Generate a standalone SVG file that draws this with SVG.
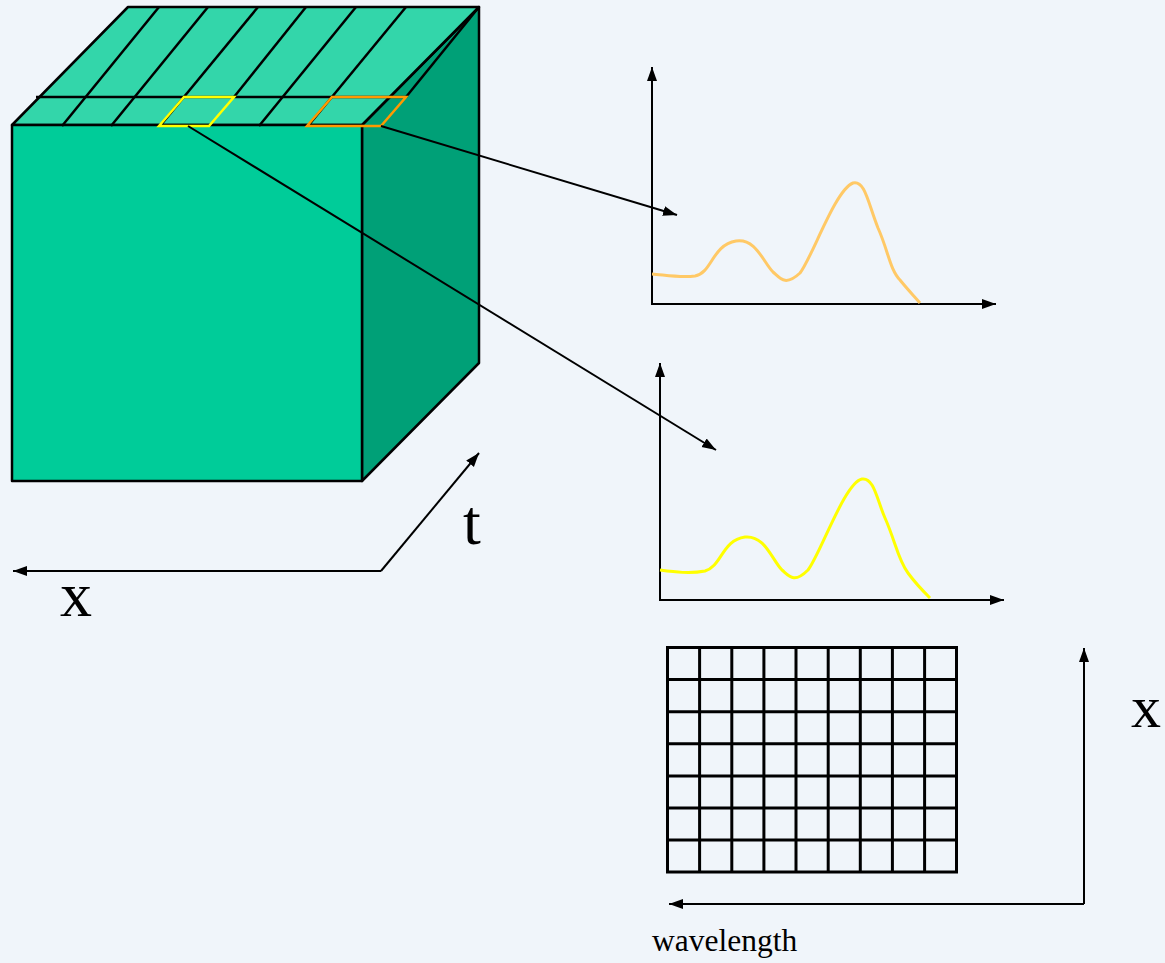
<svg xmlns="http://www.w3.org/2000/svg" width="1165" height="963" viewBox="0 0 1165 963">
<style>
.edge{stroke:#000;stroke-width:2.5;stroke-linejoin:round;}
.ln{fill:none;stroke:#000;stroke-width:2.5;}
.ax{fill:none;stroke:#000;stroke-width:2;}
.grid line{stroke:#000;stroke-width:3;}
.lbl{font-family:"Liberation Serif","Times New Roman",serif;fill:#000;}
</style>
<defs>
<marker id="ah" markerUnits="userSpaceOnUse" markerWidth="16" markerHeight="12" refX="14" refY="5" orient="auto" viewBox="0 0 16 10">
<path d="M0,0 L14,5 L0,10 Z" fill="#000"/>
</marker>
</defs>
<rect width="1165" height="963" fill="#F0F5FA"/>
<g id="cube">
<polygon class="edge" points="362,125 479,7 479,363 362,481" fill="#00A077"/>
<polygon class="edge" points="12,125 128,7 479,7 362,125" fill="#33D6AA"/>
<rect class="edge" x="12" y="125" width="350" height="356" fill="#00CC99"/>
<line class="ln" x1="36" y1="97" x2="406" y2="97"/>
<line class="ln" x1="159" y1="7" x2="62" y2="126"/>
<line class="ln" x1="208" y1="7" x2="111" y2="126"/>
<line class="ln" x1="258" y1="7" x2="160" y2="126"/>
<line class="ln" x1="306" y1="7" x2="234" y2="97"/>
<line class="ln" x1="356" y1="7" x2="259" y2="126"/>
<line class="ln" x1="406" y1="7" x2="308" y2="126"/>
<line class="ln" x1="479" y1="7" x2="406" y2="97"/>
<polygon points="159,126 184,97 234,97 209,126" fill="none" stroke="#FFFF00" stroke-width="2.5"/>
<polygon points="307,126 332,97 406,97 381,126" fill="none" stroke="#FF9900" stroke-width="2.5"/>
</g>
<g id="connectors">
<line class="ax" x1="381" y1="126" x2="677" y2="215" marker-end="url(#ah)"/>
<line class="ax" x1="188" y1="126" x2="716" y2="450" marker-end="url(#ah)"/>
<polyline class="ax" points="381,571 13,571" marker-end="url(#ah)"/>
<polyline class="ax" points="381,571 479,453" marker-end="url(#ah)"/>
<polyline class="ax" points="1084,904 1084,648" marker-end="url(#ah)"/>
<polyline class="ax" points="1084,904 669,904" marker-end="url(#ah)"/>
</g>
<g id="spectrum1">
<line class="ax" x1="652" y1="304" x2="652" y2="67" stroke-width="2.5" marker-end="url(#ah)"/>
<line class="ax" x1="651" y1="304" x2="996" y2="304" stroke-width="2.5" marker-end="url(#ah)"/>
<path d="M652,274 C665,275 680,278 695,276 C712,273 712,245 736,241 C756,238 763,262 773,272 C780,278 785,287 800,273 C812,258 835,190 853,183 C865,180 868,203 878,228 C888,250 890,270 900,280 C908,290 915,297 920,303" fill="none" stroke="#FFC966" stroke-width="3"/>
</g>
<g id="spectrum2">
<line class="ax" x1="660" y1="600" x2="660" y2="363" stroke-width="2.5" marker-end="url(#ah)"/>
<line class="ax" x1="659" y1="600" x2="1004" y2="600" stroke-width="2.5" marker-end="url(#ah)"/>
<path d="M660,570 C675,572 690,574 705,571 C722,566 722,540 745,537 C765,535 772,560 782,570 C789,576 794,584 808,570 C820,555 845,482 862,479 C874,477 877,500 885,518 C895,540 898,560 908,573 C916,584 923,591 930,598" fill="none" stroke="#FFFF00" stroke-width="3"/>
</g>
<g id="grid" class="grid">
<rect x="667.5" y="647.5" width="289" height="224.5" fill="none" stroke="#000" stroke-width="3"/>
<line x1="699.6" y1="647" x2="699.6" y2="872"/>
<line x1="731.8" y1="647" x2="731.8" y2="872"/>
<line x1="763.9" y1="647" x2="763.9" y2="872"/>
<line x1="796.0" y1="647" x2="796.0" y2="872"/>
<line x1="828.2" y1="647" x2="828.2" y2="872"/>
<line x1="860.3" y1="647" x2="860.3" y2="872"/>
<line x1="892.4" y1="647" x2="892.4" y2="872"/>
<line x1="924.6" y1="647" x2="924.6" y2="872"/>
<line x1="667" y1="679.6" x2="957" y2="679.6"/>
<line x1="667" y1="711.7" x2="957" y2="711.7"/>
<line x1="667" y1="743.8" x2="957" y2="743.8"/>
<line x1="667" y1="775.9" x2="957" y2="775.9"/>
<line x1="667" y1="808.0" x2="957" y2="808.0"/>
<line x1="667" y1="840.1" x2="957" y2="840.1"/>
</g>
<g id="labels">
<text class="lbl" x="463" y="544" font-size="64">t</text>
<text class="lbl" x="60" y="616" font-size="64">x</text>
<text class="lbl" x="1131" y="727" font-size="60">x</text>
<text class="lbl" x="652" y="951" font-size="31.5">wavelength</text>
</g>
</svg>
